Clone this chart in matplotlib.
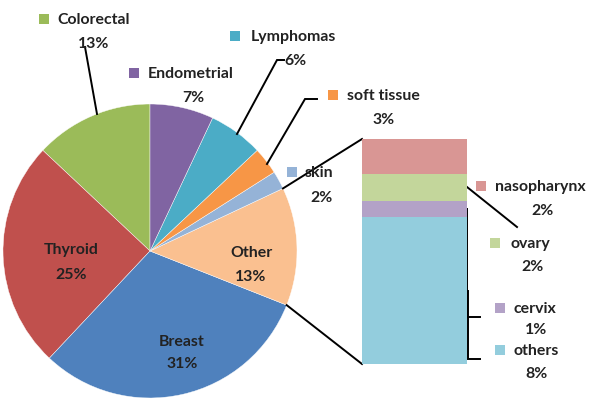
import matplotlib
matplotlib.use("Agg")
import matplotlib.pyplot as plt
from matplotlib.patches import Rectangle
import numpy as np

# ---- data ----
pie_labels = ["Colorectal", "Thyroid", "Breast", "Other", "skin", "soft tissue", "Lymphomas", "Endometrial"]
pie_values = [13, 25, 31, 13, 2, 3, 6, 7]
pie_colors = ["#9BBB59", "#C0504D", "#4F81BD", "#FAC090", "#95B3D7", "#F79646", "#4BACC6", "#8064A2"]

bar_labels = ["others", "cervix", "ovary", "nasopharynx"]
bar_values = [8.5, 0.9, 1.6, 2.0]
bar_pct = ["8%", "1%", "2%", "2%"]
bar_colors = ["#93CDDD", "#B3A2C7", "#C3D69B", "#D99694"]

W, H = 592, 402
fig = plt.figure(figsize=(W / 100, H / 100), dpi=100)
ax = fig.add_axes([0, 0, 1, 1])
Y = lambda y: H - y  # pixel-row to data y

FONT = dict(family="Lato", fontweight="bold", fontsize=11.4, color="#222222")

wedges, _ = ax.pie(pie_values, colors=pie_colors, startangle=90, counterclock=True,
                   center=(150, Y(252)), radius=147,
                   wedgeprops=dict(edgecolor="white", linewidth=0.3))
ax.set_xlim(0, W)
ax.set_ylim(0, H)
ax.set_aspect("equal")
ax.axis("off")

# ---- bar of pie ----
bx0, by_top, bx1, by_bot = 362, 140, 467, 365
bax = fig.add_axes([bx0 / W, (H - by_bot) / H, (bx1 - bx0) / W, (by_bot - by_top) / H])
bottom = 0
for v, c in zip(bar_values, bar_colors):
    bax.bar(0, v, width=1, bottom=bottom, color=c, edgecolor="none")
    bottom += v
bax.set_xlim(-0.5, 0.5)
bax.set_ylim(0, sum(bar_values))
bax.axis("off")

# connector lines from "Other" wedge to bar
w_other = wedges[pie_labels.index("Other")]
cx, cy = w_other.center
r = w_other.r
t1, t2 = np.deg2rad(w_other.theta1), np.deg2rad(w_other.theta2)
ax.plot([cx + r * np.cos(t2), bx0], [cy + r * np.sin(t2), Y(by_top)], color="black", lw=1.4)
ax.plot([cx + r * np.cos(t1), bx0], [cy + r * np.sin(t1), Y(by_bot)], color="black", lw=1.4)

# ---- labels ----
def square(x, y, c, s=10):
    ax.add_patch(Rectangle((x, Y(y) - s / 2), s, s, facecolor=c, edgecolor="none"))

def legend_label(name, pct, color, sq_x, y_name, text_x, pct_x, y_pct):
    square(sq_x, y_name, color)
    ax.text(text_x, Y(y_name), name, ha="left", va="center", **FONT)
    ax.text(pct_x, Y(y_pct), pct, ha="center", va="center", **FONT)

def pct_of(name):
    return f"{pie_values[pie_labels.index(name)]}%"

def col_of(name):
    return pie_colors[pie_labels.index(name)]

legend_label("Colorectal", pct_of("Colorectal"), col_of("Colorectal"), 39, 20, 57, 94, 44)
legend_label("Endometrial", pct_of("Endometrial"), col_of("Endometrial"), 129, 74, 148, 193, 98)
legend_label("Lymphomas", pct_of("Lymphomas"), col_of("Lymphomas"), 230, 37, 251, 295, 61)
legend_label("soft tissue", pct_of("soft tissue"), col_of("soft tissue"), 328, 96, 347, 384, 120)
legend_label("skin", pct_of("skin"), col_of("skin"), 287, 173, 305, 321, 198)

# inside labels
for name, x, y1, y2 in [("Thyroid", 71, 250, 275), ("Breast", 182, 342, 364), ("Other", 251, 253, 277)]:
    ax.text(x, Y(y1), name, ha="center", va="center", **FONT)
    ax.text(x, Y(y2), pct_of(name), ha="center", va="center", **FONT)

# bar labels
bar_pos = {"nasopharynx": (476, 187, 495, 543, 211),
           "ovary": (490, 244, 510, 532, 267),
           "cervix": (495, 309, 513, 536, 330),
           "others": (495, 351, 513, 537, 374)}
for name, pct, c in zip(bar_labels, bar_pct, bar_colors):
    sx, yn, tx, px, yp = bar_pos[name]
    legend_label(name, pct, c, sx, yn, tx, px, yp)

# leader lines
leaders = [
    [(85, 48), (97, 115)],
    [(237, 135), (277, 61), (284, 61)],
    [(267, 165), (305, 100), (317, 100)],
    [(467, 188), (517, 228)],
    [(467, 210), (467, 318), (480, 318)],
    [(468, 292), (468, 360), (480, 360)],
]
for pts in leaders:
    xs = [p[0] for p in pts]
    ys = [Y(p[1]) for p in pts]
    ax.plot(xs, ys, color="black", lw=1.4, solid_joinstyle="miter")

fig.savefig("out.png", dpi=100)
